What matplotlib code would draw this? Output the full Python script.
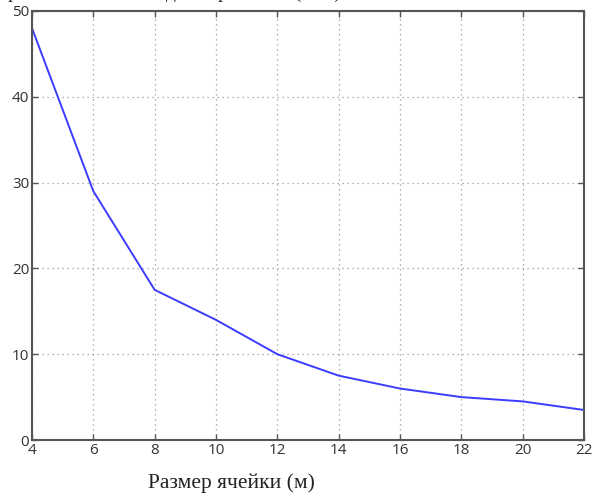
import matplotlib
matplotlib.use("Agg")
import matplotlib.pyplot as plt

cell_size = [4, 6, 8, 10, 12, 14, 16, 18, 20, 22]
time_min = [48, 29, 17.5, 14, 10, 7.5, 6, 5, 4.5, 3.5]
x_ticks = [4, 6, 8, 10, 12, 14, 16, 18, 20, 22]
y_ticks = [0, 10, 20, 30, 40, 50]

fig = plt.figure(figsize=(5.92, 4.94), dpi=100)
ax = fig.add_axes([32 / 592, 1 - 440 / 494, 552 / 592, 429 / 494])

ax.plot(cell_size, time_min, color="#3c3cff", linewidth=1.4)

ax.set_xlim(4, 22)
ax.set_ylim(0, 50)
ax.set_xticks(x_ticks)
ax.set_yticks(y_ticks)
ax.grid(True, linestyle=(0, (1, 3)), color="#999999", linewidth=0.9)
ax.tick_params(direction="in", top=True, right=True, length=4, width=1,
               color="#555555", labelsize=11, pad=2, labelcolor="#333333")
for sp in ax.spines.values():
    sp.set_color("#555555")
    sp.set_linewidth(1.5)
for lbl in ax.get_xticklabels() + ax.get_yticklabels():
    lbl.set_family("Open Sans")

fig.text(148 / 592, 1 - 483 / 494, "Размер ячейки (м)", family="Liberation Serif",
         fontsize=15.5, va="center", ha="left", color="#222222")
# верхняя подпись в оригинале почти целиком срезана краем картинки
fig.text(-5 / 592, 1 - 2 / 494, "Время вычисления одного решения (мин)",
         family="Liberation Serif", fontsize=14, va="bottom", ha="left", color="#222222")

fig.savefig("out.png", dpi=100)
